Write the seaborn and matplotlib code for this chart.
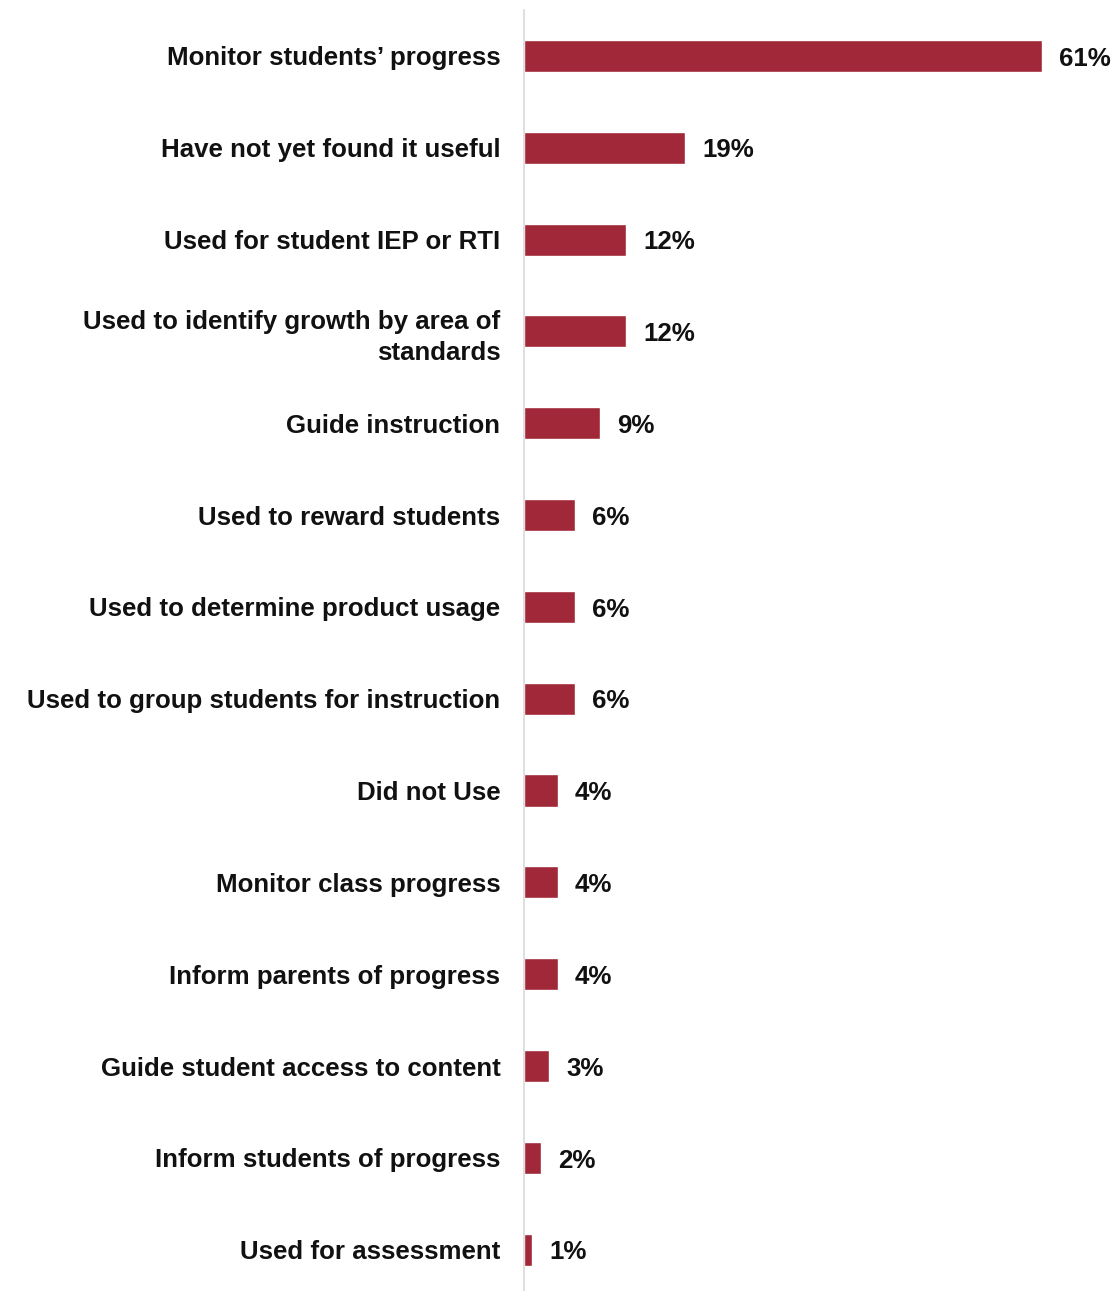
import matplotlib
matplotlib.use("Agg")
import matplotlib.pyplot as plt
import seaborn as sns
import pandas as pd

categories = [
    "Monitor students\u2019 progress",
    "Have not yet found it useful",
    "Used for student IEP or RTI",
    "Used to identify growth by area of\nstandards",
    "Guide instruction",
    "Used to reward students",
    "Used to determine product usage",
    "Used to group students for instruction",
    "Did not Use",
    "Monitor class progress",
    "Inform parents of progress",
    "Guide student access to content",
    "Inform students of progress",
    "Used for assessment",
]
values = [61, 19, 12, 12, 9, 6, 6, 6, 4, 4, 4, 3, 2, 1]
value_labels = ["61%", "19%", "12%", "12%", "9%", "6%", "6%", "6%", "4%", "4%", "4%", "3%", "2%", "1%"]

df = pd.DataFrame({"category": categories, "value": values})

sns.set_theme(style="white")
plt.rcParams["font.family"] = ["Liberation Sans", "DejaVu Sans"]

fig = plt.figure(figsize=(11.15, 12.91), dpi=100)
ax = fig.add_axes([524 / 1115, 0.0, 1 - 524 / 1115, 1 - 10 / 1291])

sns.barplot(data=df, x="value", y="category", orient="h", color="#A02838",
            saturation=1, width=0.35, ax=ax)

ax.set_xlim(0, 69.6)
ax.set_ylim(13.45, -0.5)
ax.set_xlabel("")
ax.set_ylabel("")
ax.set_xticks([])
for s in ["top", "right", "bottom"]:
    ax.spines[s].set_visible(False)
ax.spines["left"].set_color("#d9d9d9")
ax.spines["left"].set_linewidth(1.2)
ax.tick_params(axis="y", length=0, pad=17)
for lab in ax.get_yticklabels():
    lab.set_fontsize(18.6)
    lab.set_fontweight("bold")
    lab.set_color("#111111")
    lab.set_horizontalalignment("right")
    lab.set_multialignment("right")
    lab.set_linespacing(1.35)

for i, (v, t) in enumerate(zip(values, value_labels)):
    ax.text(v + 2.0, i + 0.03, t, va="center", ha="left", fontsize=18.6,
            fontweight="bold", color="#111111")

fig.savefig("out.png", dpi=100)
